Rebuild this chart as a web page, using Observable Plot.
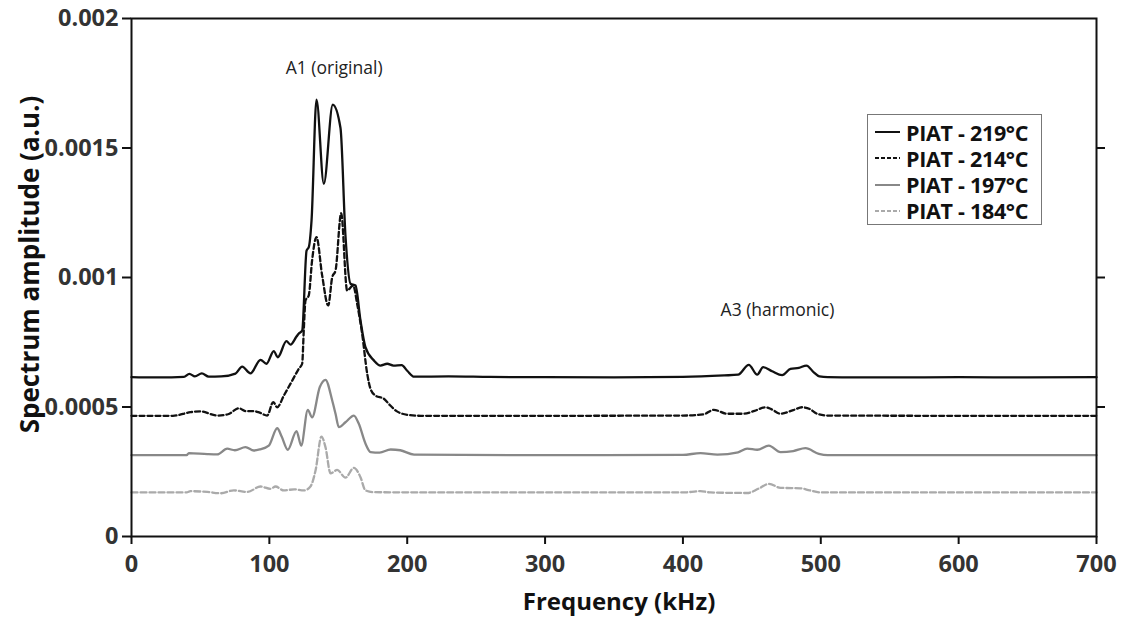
<!DOCTYPE html>
<html>
<head>
<meta charset="utf-8">
<script src="https://cdn.jsdelivr.net/npm/d3@7"></script>
<script src="https://cdn.jsdelivr.net/npm/@observablehq/plot@0.6"></script>
<style>
  html, body { margin: 0; padding: 0; background: #fff; }
  #wrap { position: relative; width: 1122px; height: 617px; font-family: "Open Sans", "DejaVu Sans", sans-serif; }
  #legend { position: absolute; left: 867px; top: 114px; width: 173px; height: 109px; border: 1px solid #777; background: #fff; box-sizing: content-box; }
  .row { position: absolute; left: 0; height: 26px; display: flex; align-items: center; }
  .row svg { margin-left: 7px; margin-right: 6px; }
  .row span { font-weight: 700; font-size: 21.5px; color: #111; white-space: nowrap; letter-spacing: -0.3px; }
</style>
</head>
<body>
<div id="wrap"><div id="chart"></div><div id="legend"></div></div>
<script>
// Series names
const seriesNames = ["PIAT - 219°C", "PIAT - 214°C", "PIAT - 197°C", "PIAT - 184°C"];

// PIAT - 219°C
const f219 = [0, 20, 38, 42, 46, 51, 56, 65, 75.4, 80.3, 86.3, 93.6, 97.9, 103.2, 106.1, 112.4, 115.3, 119.7, 121.4, 123.8, 127, 128.6, 130.6, 134.2, 139.5, 146, 151.6, 155.2, 158.9, 162.5, 166.1, 169.7, 175.8, 180.6, 185.5, 190, 196, 200, 205, 230, 260, 300, 350, 400, 430, 440, 447.8, 453.9, 458.2, 464.7, 472, 478, 484.1, 489.6, 494.9, 499, 505, 550, 600, 650, 700];
const v219 = [0.000615, 0.000614, 0.000616, 0.000628, 0.000618, 0.00063, 0.000617, 0.000618, 0.000629, 0.000656, 0.00063, 0.000682, 0.000667, 0.000716, 0.000692, 0.000754, 0.000741, 0.000772, 0.000784, 0.000795, 0.001104, 0.001117, 0.00122, 0.001687, 0.001362, 0.001667, 0.001577, 0.001162, 0.000976, 0.000969, 0.000834, 0.000731, 0.00068, 0.00066, 0.000667, 0.00066, 0.000662, 0.00064, 0.000617, 0.000618, 0.000616, 0.000615, 0.000614, 0.000616, 0.000622, 0.000625, 0.000663, 0.000625, 0.000654, 0.000638, 0.000623, 0.000647, 0.000651, 0.00066, 0.000634, 0.000618, 0.000615, 0.000614, 0.000615, 0.000614, 0.000615];

// PIAT - 214°C
const f214 = [0, 30, 42.8, 50, 62.2, 70, 77.9, 83, 88.7, 93, 98.4, 102.8, 105.7, 110.5, 116.6, 121.4, 123.8, 125, 126.2, 128.6, 131, 134.2, 138.3, 142.7, 145.6, 148, 152.1, 156.4, 160.8, 163.7, 167.3, 171, 173.4, 177, 183, 186.6, 192, 200, 210, 300, 400, 415, 422.4, 432.1, 444.2, 452, 459.9, 464, 470.8, 480, 486.5, 492, 497.4, 505, 600, 700];
const v214 = [0.000466, 0.000466, 0.00048, 0.000483, 0.000467, 0.000472, 0.000495, 0.000484, 0.000484, 0.000478, 0.000467, 0.000519, 0.000499, 0.000544, 0.000602, 0.000648, 0.000667, 0.0008, 0.000911, 0.000931, 0.001066, 0.001156, 0.001008, 0.000892, 0.001001, 0.001027, 0.001248, 0.00095, 0.000969, 0.000898, 0.000783, 0.000628, 0.00057, 0.000544, 0.000532, 0.000512, 0.000485, 0.00047, 0.000466, 0.000466, 0.000467, 0.000472, 0.000489, 0.000474, 0.000474, 0.000485, 0.000499, 0.000492, 0.000474, 0.000488, 0.000499, 0.000492, 0.000474, 0.000467, 0.000466, 0.000466];

// PIAT - 197°C
const f197 = [0, 40, 41.6, 55, 62.2, 69.4, 75, 82.7, 88.7, 93, 99.6, 105.7, 109, 113.4, 119.7, 123.1, 127.9, 131, 136.6, 140.7, 145.6, 148, 150.4, 155.2, 161.3, 164.9, 169.7, 173.4, 180, 188, 195, 205, 300, 400, 412.7, 425, 440, 446.6, 453.9, 462.3, 470.8, 480, 488.9, 498.6, 505, 600, 700];
const v197 = [0.000314, 0.000314, 0.000322, 0.000318, 0.000317, 0.000339, 0.000333, 0.000345, 0.000332, 0.000336, 0.000351, 0.000418, 0.000385, 0.000335, 0.000407, 0.000351, 0.000489, 0.00046, 0.000577, 0.000605, 0.000525, 0.000474, 0.000422, 0.000441, 0.000467, 0.000435, 0.000359, 0.000326, 0.000324, 0.000336, 0.000333, 0.000316, 0.000314, 0.000315, 0.000322, 0.000316, 0.000325, 0.000339, 0.000335, 0.000351, 0.000326, 0.00033, 0.000341, 0.000319, 0.000314, 0.000314, 0.000314];

// PIAT - 184°C
const f184 = [0, 40, 42.8, 55, 64.6, 74.2, 84, 93.6, 100.8, 104.5, 110.5, 118, 125, 129.8, 133.5, 137.8, 140.7, 144.4, 149.2, 155.2, 161.3, 166.1, 169.7, 175.8, 250, 400, 412.7, 420, 446.6, 455, 462.3, 470.8, 485.3, 492, 500, 600, 700];
const v184 = [0.00017, 0.00017, 0.000175, 0.000172, 0.000167, 0.000178, 0.000172, 0.000193, 0.000184, 0.000193, 0.000178, 0.000182, 0.000178, 0.000193, 0.000255, 0.000386, 0.000345, 0.000244, 0.000257, 0.000227, 0.000265, 0.000229, 0.000178, 0.000171, 0.00017, 0.00017, 0.000175, 0.00017, 0.000168, 0.000185, 0.000203, 0.000188, 0.000186, 0.000178, 0.00017, 0.00017, 0.00017];

const xTicks = [0, 100, 200, 300, 400, 500, 600, 700];
const yTicks = [0, 0.0005, 0.001, 0.0015, 0.002];

const annotations = [
  {f: 147, v: 0.001807, label: "A1 (original)"},
  {f: 468.6, v: 0.000873, label: "A3 (harmonic)"}
];

const styles = [
  {stroke: "#111", dash: null},
  {stroke: "#111", dash: "5,3"},
  {stroke: "#888", dash: null},
  {stroke: "#aaa", dash: "6,3"}
];

const pairs = [[f219, v219], [f214, v214], [f197, v197], [f184, v184]];
const series = pairs.map(([f, v]) => f.map((x, i) => ({f: x, v: v[i]})));

const tickFont = {fontSize: 23.5, fontWeight: 700, fill: "#333"};

const chart = Plot.plot({
  width: 1122,
  height: 617,
  marginLeft: 131,
  marginRight: 26,
  marginTop: 18,
  marginBottom: 81,
  style: {fontFamily: "'Open Sans', 'DejaVu Sans', sans-serif", background: "#fff"},
  x: {domain: [0, 700]},
  y: {domain: [0, 0.002]},
  marks: [
    ...series.map((d, i) => Plot.line(d, {
      x: "f", y: "v", stroke: styles[i].stroke, strokeWidth: 2.3,
      strokeDasharray: styles[i].dash, strokeLinejoin: "round", curve: "monotone-x"
    })),
    Plot.axisX({ticks: xTicks, tickSize: 8, tickPadding: 11, tickFormat: d => String(d), label: null, ...tickFont, stroke: "#111", strokeWidth: 2}),
    Plot.axisY({ticks: yTicks, tickSize: 9, tickPadding: 4, tickFormat: d => String(d), label: null, ...tickFont, stroke: "#111", strokeWidth: 2}),
    Plot.axisY({anchor: "right", ticks: [0.0005, 0.001, 0.0015], tickSize: 8, tickFormat: () => "", label: null, stroke: "#111", strokeWidth: 2}),
    Plot.frame({stroke: "#111", strokeWidth: 2}),
    Plot.text(annotations, {x: "f", y: "v", text: "label", fontSize: 17.5, fontWeight: 500, fill: "#222"}),
    Plot.text(["Frequency (kHz)"], {frameAnchor: "bottom", lineAnchor: "middle", textAnchor: "middle", dy: 66, dx: 5, fontSize: 24, fontWeight: 700, fill: "#111"}),
    Plot.text(["Spectrum amplitude (a.u.)"], {frameAnchor: "left", lineAnchor: "middle", textAnchor: "middle", dx: -101, dy: -13, rotate: -90, fontSize: 26, fontWeight: 700, fill: "#111"})
  ]
});
document.getElementById("chart").appendChild(chart);

// Legend
const legend = document.getElementById("legend");
seriesNames.forEach((name, i) => {
  const row = document.createElement("div");
  row.className = "row";
  row.style.top = (4 + i * 26.3) + "px";
  const s = styles[i];
  row.innerHTML = `<svg width="25" height="6"><line x1="0" x2="25" y1="3" y2="3" stroke="${s.stroke}" stroke-width="2" ${s.dash ? `stroke-dasharray="4,2"` : ""}/></svg><span>${name}</span>`;
  legend.appendChild(row);
});
</script>
</body>
</html>
